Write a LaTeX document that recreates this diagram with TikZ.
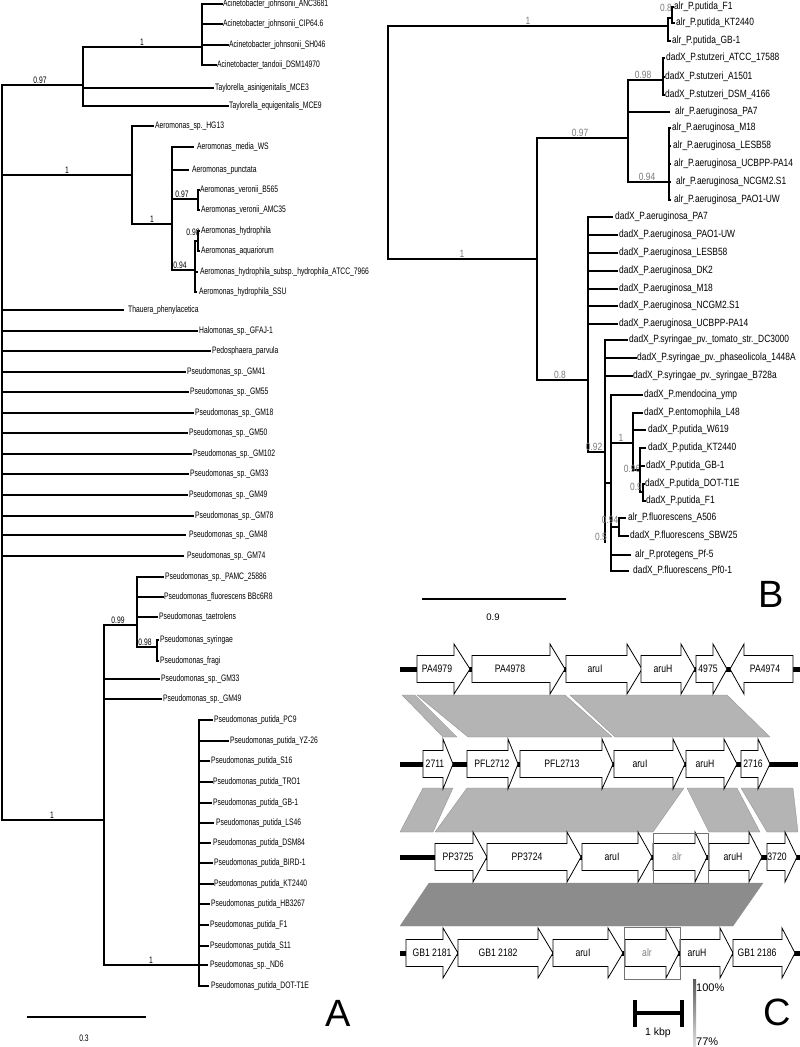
\documentclass[tikz,border=0pt]{standalone}
\usepackage{fontspec}
\setmainfont{Liberation Sans}
\newfontfamily\narA[FakeStretch=0.72]{Liberation Sans}
\newfontfamily\narB[FakeStretch=0.8]{Liberation Sans}
\newfontfamily\narC[FakeStretch=0.8]{Liberation Sans}
\definecolor{bandL}{HTML}{B4B4B4}
\definecolor{bandD}{HTML}{8C8C8C}
\definecolor{supg}{HTML}{7A7A7A}
\tikzset{
 brA/.style={line width=1.5pt,line cap=rect},
 brB/.style={line width=1.5pt,line cap=rect},
 la/.style={font=\narA\fontsize{9.4}{10}\selectfont,anchor=west,inner sep=0pt},
 sa/.style={font=\narA\fontsize{9.4}{10}\selectfont,anchor=south,inner sep=0pt},
 lb/.style={font=\narB\fontsize{10.5}{11}\selectfont,anchor=west,inner sep=0pt},
 sb/.style={font=\narB\fontsize{10.5}{11}\selectfont,anchor=south,inner sep=0pt,text=supg},
 gn/.style={draw=black,fill=white,line width=0.8pt,line join=miter},
 gl/.style={font=\narC\fontsize{10.8}{12}\selectfont,inner sep=0pt},
 bb/.style={line width=5pt},
 band/.style={fill=bandL,draw=black!45,line width=0.3pt},
 panel/.style={font=\fontsize{38}{38}\selectfont,inner sep=0pt},
 scl/.style={font=\fontsize{9.5}{11}\selectfont,inner sep=0pt},
 alrbox/.style={draw=black!55,line width=1pt},
}
\newcommand\vA[3]{\draw[brA] (#1,#2) -- (#1,#3);}
\newcommand\hA[3]{\draw[brA] (#1,#3) -- (#2,#3);}
\newcommand\sA[4]{\node[sa] (#3) at (#1,#2-1.5) {#4};}
\newcommand\lA[6]{\draw[brA] (#1,#3) -- (#2,#3); \node[la] (#5) at (#4,#3) {#6};}
\newcommand\vB[3]{\draw[brB] (#1,#2) -- (#1,#3);}
\newcommand\hB[3]{\draw[brB] (#1,#3) -- (#2,#3);}
\newcommand\sB[4]{\node[sb] (#3) at (#1,#2-1.5) {#4};}
\newcommand\lB[6]{\draw[brB] (#1,#3) -- (#2,#3); \node[lb] (#5) at (#4,#3) {#6};}
\newcommand\gene[7]{\draw[gn] (#2,#5-13.5) -- (#3,#5-13.5) -- (#3,#5-25) -- (#4,#5) -- (#3,#5+25) -- (#3,#5+13.5) -- (#2,#5+13.5) -- cycle; \node[gl] (#1) at (#6,#5) {#7};}
\newcommand\rgene[7]{\draw[gn] (#2,#5) -- (#3,#5-25) -- (#3,#5-13.5) -- (#4,#5-13.5) -- (#4,#5+13.5) -- (#3,#5+13.5) -- (#3,#5+25) -- cycle; \node[gl] (#1) at (#6,#5) {#7};}
\begin{document}
\begin{tikzpicture}[x=1pt,y=-1pt]
\useasboundingbox (0,0) rectangle (800,1047);
% ================= Panel A =================
\vA{2}{85}{820}
\hA{2}{83}{85} \sA{40}{85}{sa1}{0.97}
\vA{83}{47}{106}
\hA{83}{202}{47} \sA{142}{47}{sa2}{1}
\vA{202}{4}{65}
\lA{202}{222}{4}{223}{a1}{Acinetobacter\_johnsonii\_ANC3681}
\lA{202}{222}{24}{223}{a2}{Acinetobacter\_johnsonii\_CIP64.6}
\lA{202}{228}{45}{229}{a3}{Acinetobacter\_johnsonii\_SH046}
\lA{202}{216}{65}{217}{a4}{Acinetobacter\_tandoii\_DSM14970}
\lA{83}{213}{88}{215}{a5}{Taylorella\_asinigenitalis\_MCE3}
\lA{83}{228}{106}{229}{a6}{Taylorella\_equigenitalis\_MCE9}
\hA{2}{132}{175} \sA{67}{175}{sa3}{1}
\vA{132}{126}{224}
\lA{132}{153}{126}{155}{a7}{Aeromonas\_sp.\_HG13}
\hA{132}{172}{224} \sA{152}{224}{sa4}{1}
\vA{172}{147}{270}
\lA{172}{193}{147}{197}{a8}{Aeromonas\_media\_WS}
\lA{172}{188}{170}{192}{a9}{Aeromonas\_punctata}
\hA{172}{198}{199} \sA{182}{199}{sa5}{0.97}
\vA{198}{190}{210}
\lA{198}{199}{190}{200}{a10}{Aeromonas\_veronii\_B565}
\lA{198}{199}{210}{201}{a11}{Aeromonas\_veronii\_AMC35}
\hA{172}{195}{270} \sA{180}{270}{sa6}{0.94}
\vA{195}{241}{292}
\hA{195}{198}{241}
\node[sa,anchor=center] (sa7) at (193,232) {0.98};
\vA{198}{231}{251}
\lA{198}{199}{231}{201}{a12}{Aeromonas\_hydrophila}
\lA{198}{199}{251}{201}{a13}{Aeromonas\_aquariorum}
\lA{195}{197}{272}{200}{a14}{Aeromonas\_hydrophila\_subsp.\_hydrophila\_ATCC\_7966}
\lA{195}{196}{292}{199}{a15}{Aeromonas\_hydrophila\_SSU}
\lA{2}{123}{310}{128}{a16}{Thauera\_phenylacetica}
\lA{2}{197}{331}{199}{a17}{Halomonas\_sp.\_GFAJ-1}
\lA{2}{210}{351}{212}{a18}{Pedosphaera\_parvula}
\lA{2}{185}{372}{187}{a19}{Pseudomonas\_sp.\_GM41}
\lA{2}{188}{392}{190}{a20}{Pseudomonas\_sp.\_GM55}
\lA{2}{193}{413}{195}{a21}{Pseudomonas\_sp.\_GM18}
\lA{2}{187}{433}{189}{a22}{Pseudomonas\_sp.\_GM50}
\lA{2}{191}{454}{193}{a23}{Pseudomonas\_sp.\_GM102}
\lA{2}{188}{474}{190}{a24}{Pseudomonas\_sp.\_GM33}
\lA{2}{187}{495}{189}{a25}{Pseudomonas\_sp.\_GM49}
\lA{2}{193}{516}{195}{a26}{Pseudomonas\_sp.\_GM78}
\lA{2}{185}{535}{189}{a27}{Pseudomonas\_sp.\_GM48}
\lA{2}{183}{556}{187}{a28}{Pseudomonas\_sp.\_GM74}
\hA{2}{104}{820} \sA{52}{820}{sa8}{1}
\vA{104}{625}{965}
\hA{104}{137}{625} \sA{118}{625}{sa9}{0.99}
\vA{137}{577}{647}
\lA{137}{163}{577}{165}{a29}{Pseudomonas\_sp.\_PAMC\_25886}
\lA{137}{163}{597}{164}{a30}{Pseudomonas\_fluorescens BBc6R8}
\lA{137}{157}{617}{159}{a31}{Pseudomonas\_taetrolens}
\hA{137}{157}{647} \sA{145}{647}{sa10}{0.98}
\vA{157}{640}{661}
\lA{157}{158}{640}{160}{a32}{Pseudomonas\_syringae}
\lA{157}{158}{661}{160}{a33}{Pseudomonas\_fragi}
\lA{104}{159}{679}{161}{a34}{Pseudomonas\_sp.\_GM33}
\lA{104}{161}{699}{163}{a35}{Pseudomonas\_sp.\_GM49}
\hA{104}{199}{965} \sA{151}{965}{sa11}{1}
\vA{199}{720}{986}
\lA{199}{212}{720}{214}{a36}{Pseudomonas\_putida\_PC9}
\lA{199}{228}{741}{230}{a37}{Pseudomonas\_putida\_YZ-26}
\lA{199}{209}{761}{211}{a38}{Pseudomonas\_putida\_S16}
\lA{199}{212}{782}{213}{a39}{Pseudomonas\_putida\_TRO1}
\lA{199}{211}{803}{213}{a40}{Pseudomonas\_putida\_GB-1}
\lA{199}{213}{823}{216}{a41}{Pseudomonas\_putida\_LS46}
\lA{199}{210}{843}{213}{a42}{Pseudomonas\_putida\_DSM84}
\lA{199}{212}{863}{214}{a43}{Pseudomonas\_putida\_BIRD-1}
\lA{199}{213}{884}{214}{a44}{Pseudomonas\_putida\_KT2440}
\lA{199}{209}{904}{211}{a45}{Pseudomonas\_putida\_HB3267}
\lA{199}{208}{925}{210}{a46}{Pseudomonas\_putida\_F1}
\lA{199}{208}{946}{210}{a47}{Pseudomonas\_putida\_S11}
\lA{199}{207}{965}{210}{a48}{Pseudomonas\_sp.\_ND6}
\lA{199}{208}{986}{211}{a49}{Pseudomonas\_putida\_DOT-T1E}
\draw[line width=1.5pt] (27,1017) -- (146,1017);
\node[sa,anchor=center] (scA) at (84,1038) {0.3};
\node[panel] (pA) at (338,1013) {A};
% ================= Panel B =================
\vB{388}{26}{259}
\hB{388}{668}{26} \sB{528}{26}{sb1}{1}
\vB{668}{18}{41}
\hB{668}{672}{18}
\node[sb,anchor=center] (sb2) at (666,8) {0.8};
\vB{672}{7}{23}
\lB{672}{673}{7}{674}{b1}{alr\_P.putida\_F1}
\lB{672}{674}{23}{676}{b2}{alr\_P.putida\_KT2440}
\lB{668}{670}{41}{672}{b3}{alr\_P.putida\_GB-1}
\hB{388}{537}{259} \sB{462}{259}{sb3}{1}
\vB{537}{138}{380}
\hB{537}{628}{138} \sB{580}{138}{sb4}{0.97}
\vB{628}{80}{182}
\hB{628}{663}{80} \sB{643}{80}{sb5}{0.98}
\vB{663}{58}{95}
\lB{663}{664}{58}{666}{b4}{dadX\_P.stutzeri\_ATCC\_17588}
\lB{663}{664}{77}{665}{b5}{dadX\_P.stutzeri\_A1501}
\lB{663}{664}{95}{665}{b6}{dadX\_P.stutzeri\_DSM\_4166}
\lB{628}{669}{112}{675}{b7}{alr\_P.aeruginosa\_PA7}
\hB{628}{669}{182} \sB{647}{182}{sb6}{0.94}
\vB{669}{128}{200}
\lB{669}{670}{128}{672}{b8}{alr\_P.aeruginosa\_M18}
\lB{669}{670}{146}{673}{b9}{alr\_P.aeruginosa\_LESB58}
\lB{669}{670}{164}{674}{b10}{alr\_P.aeruginosa\_UCBPP-PA14}
\lB{669}{670}{182}{676}{b11}{alr\_P.aeruginosa\_NCGM2.S1}
\lB{669}{670}{200}{674}{b12}{alr\_P.aeruginosa\_PAO1-UW}
\hB{537}{588}{380} \sB{560}{380}{sb7}{0.8}
\vB{588}{217}{452}
\lB{588}{612}{217}{615}{b13}{dadX\_P.aeruginosa\_PA7}
\lB{588}{617}{235}{619}{b14}{dadX\_P.aeruginosa\_PAO1-UW}
\lB{588}{617}{253}{619}{b15}{dadX\_P.aeruginosa\_LESB58}
\lB{588}{617}{271}{619}{b16}{dadX\_P.aeruginosa\_DK2}
\lB{588}{617}{289}{619}{b17}{dadX\_P.aeruginosa\_M18}
\lB{588}{617}{306}{619}{b18}{dadX\_P.aeruginosa\_NCGM2.S1}
\lB{588}{617}{324}{619}{b19}{dadX\_P.aeruginosa\_UCBPP-PA14}
\hB{588}{605}{452} \sB{594}{452}{sb8}{0.92}
\vB{605}{340}{542}
\lB{605}{627}{340}{629}{b20}{dadX\_P.syringae\_pv.\_tomato\_str.\_DC3000}
\lB{605}{636}{358}{637}{b21}{dadX\_P.syringae\_pv.\_phaseolicola\_1448A}
\lB{605}{632}{376}{633}{b22}{dadX\_P.syringae\_pv.\_syringae\_B728a}
\hB{605}{611}{483}
\vB{611}{395}{571}
\lB{611}{642}{395}{644}{b23}{dadX\_P.mendocina\_ymp}
\hB{611}{633}{443} \sB{621}{443}{sb9}{1}
\vB{633}{413}{470}
\lB{633}{642}{413}{644}{b24}{dadX\_P.entomophila\_L48}
\lB{633}{645}{430}{648}{b25}{dadX\_P.putida\_W619}
\hB{633}{640}{470}
\node[sb,anchor=center] (sb10) at (632,469) {0.96};
\vB{640}{448}{492}
\lB{640}{645}{448}{648}{b26}{dadX\_P.putida\_KT2440}
\lB{640}{644}{466}{646}{b27}{dadX\_P.putida\_GB-1}
\hB{640}{643}{492}
\node[sb,anchor=center] (sb11) at (636,487) {0.9};
\vB{643}{484}{501}
\lB{643}{644}{484}{645}{b28}{dadX\_P.putida\_DOT-T1E}
\lB{643}{645}{501}{646}{b29}{dadX\_P.putida\_F1}
\hB{611}{619}{527}
\node[sb,anchor=center] (sb12) at (610,520) {0.94};
\node[sb,anchor=center] (sb13) at (601,537) {0.5};
\vB{619}{518}{536}
\lB{619}{625}{518}{628}{b30}{alr\_P.fluorescens\_A506}
\lB{619}{628}{536}{630}{b31}{dadX\_P.fluorescens\_SBW25}
\lB{611}{630}{555}{635}{b32}{alr\_P.protegens\_Pf-5}
\lB{611}{628}{571}{633}{b33}{dadX\_P.fluorescens\_Pf0-1}
\draw[line width=1.5pt] (422,599) -- (566,599);
\node[scl] (scB) at (493,617) {0.9};
\node[panel] (pB) at (771,594) {B};
% ================= Panel C =================
\path[band] (402,695) -- (415,695) -- (457,737) -- (443,737) -- cycle;
\path[band] (417,695) -- (565,695) -- (612,737) -- (468,737) -- cycle;
\path[band] (570,695) -- (727,695) -- (770,737) -- (615,737) -- cycle;
\path[band] (423,788) -- (453,788) -- (433,832) -- (400,832) -- cycle;
\path[band] (467,788) -- (684,788) -- (653,832) -- (435,832) -- cycle;
\path[band] (687,788) -- (737,788) -- (760,832) -- (709,832) -- cycle;
\path[band] (741,788) -- (793,788) -- (798,832) -- (767,832) -- cycle;
\path[band,fill=bandD] (429,883) -- (763,883) -- (733,926) -- (400,926) -- cycle;
\draw[bb] (400,669) -- (800,669);
\draw[bb] (400,764) -- (798,764);
\draw[bb] (400,857) -- (800,857);
\draw[bb] (400,953) -- (800,953);
\gene{g11}{417}{454}{470}{669}{437}{PA4979}
\gene{g12}{472}{550}{565}{669}{510}{PA4978}
\gene{g13}{566}{627}{642}{669}{595}{aruI}
\gene{g14}{641}{681}{695}{669}{663}{aruH}
\gene{g15}{696}{713}{727}{669}{708}{4975}
\rgene{g16}{730}{744}{793}{669}{765}{PA4974}
\gene{g21}{423}{443}{453}{764}{435}{2711}
\gene{g22}{467}{508}{518}{764}{492}{PFL2712}
\gene{g23}{520}{602}{613}{764}{562}{PFL2713}
\gene{g24}{614}{673}{685}{764}{640}{aruI}
\gene{g25}{686}{724}{737}{764}{705}{aruH}
\gene{g26}{741}{758}{770}{764}{753}{2716}
\gene{g31}{435}{473}{487}{857}{458}{PP3725}
\gene{g32}{487}{567}{581}{857}{527}{PP3724}
\gene{g33}{582}{638}{652}{857}{612}{aruI}
\gene{g34}{653}{695}{707}{857}{677}{\textcolor{black!50}{alr}}
\gene{g35}{709}{749}{762}{857}{733}{aruH}
\gene{g36}{767}{785}{797}{857}{777}{3720}
\gene{g41}{406}{443}{458}{953}{432}{GB1 2181}
\gene{g42}{458}{538}{553}{953}{498}{GB1 2182}
\gene{g43}{553}{608}{623}{953}{583}{aruI}
\gene{g44}{625}{666}{679}{953}{647}{\textcolor{black!50}{alr}}
\gene{g45}{680}{720}{733}{953}{697}{aruH}
\gene{g46}{733}{782}{795}{953}{757}{GB1 2186}
\draw[alrbox] (653,833) rectangle (708,883);
\draw[alrbox] (624,927) rectangle (680,979);
\draw[line width=4pt] (635,1013) -- (682,1013);
\draw[line width=4pt] (635,1000) -- (635,1027);
\draw[line width=4pt] (682,1000) -- (682,1027);
\node[scl,font=\fontsize{10.5}{12}\selectfont] (kbp) at (658,1033) {1 kbp};
\shade[top color=black!65,bottom color=black!12] (693,979) rectangle (696,1047);
\node[scl,font=\fontsize{11}{12}\selectfont,anchor=west] (p100) at (696,988) {100\%};
\node[scl,font=\fontsize{11}{12}\selectfont,anchor=west] (p77) at (696,1042) {77\%};
\node[panel] (pC) at (777,1012) {C};
\end{tikzpicture}
\end{document}
